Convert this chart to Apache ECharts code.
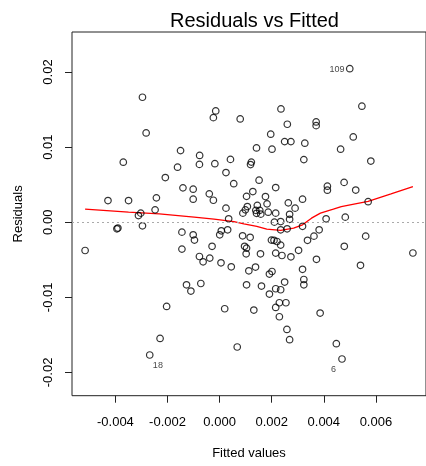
<!DOCTYPE html>
<html>
<head>
<meta charset="utf-8">
<script src="https://cdn.jsdelivr.net/npm/echarts@6/dist/echarts.min.js"></script>
<style>
  html, body { margin: 0; padding: 0; background: #fff; }
  #chart { width: 426px; height: 466px; }
</style>
</head>
<body>
<div id="chart"></div>
<script>
// Fitted values and residuals of the linear model
const fitted = [
  -0.005164, -0.004286, -0.003943, -0.003905, -0.003698, -0.003496, -0.003115, -0.003027, -0.002962, -0.002962,
  -0.002821, -0.002683, -0.002477, -0.002427, -0.002286, -0.002084, -0.002034, -0.001615, -0.001500, -0.001447,
  -0.001447, -0.001408, -0.001271, -0.001103, -0.001015, -0.001015, -0.001015, -0.000966, -0.000767, -0.000775,
  -0.000775, -0.000721, -0.000634, -0.000397, -0.000378, -0.000290, -0.000240, -0.000240, -0.000149, -0.000183,
  0.000004, 0.000065, 0.000053, 0.000195, 0.000244, 0.000244, 0.000309, 0.000347, 0.000416, 0.000447,
  0.000542, 0.000676, 0.000790, 0.001065, 0.000989, 0.000893, 0.000882, 0.000958, 0.001034, 0.001019,
  0.001034, 0.001034, 0.001122, 0.001172, 0.001218, 0.001187, 0.001275, 0.001313, 0.001378, 0.001447,
  0.001389, 0.001542, 0.001580, 0.001416, 0.001416, 0.001515, 0.001569, 0.001607, 0.001760, 0.001821,
  0.001866, 0.001912, 0.001912, 0.001962, 0.002011, 0.002011, 0.001989, 0.002088, 0.002202, 0.002344,
  0.002103, 0.002153, 0.002153, 0.002153, 0.002153, 0.002153, 0.002294, 0.002294, 0.002355, 0.002344,
  0.002344, 0.002344, 0.002393, 0.002496, 0.002496, 0.002546, 0.002584, 0.002599, 0.002592, 0.002637,
  0.002687, 0.002687, 0.002687, 0.002737, 0.002737, 0.002897, 0.003031, 0.003183, 0.003183, 0.003183,
  0.003233, 0.003233, 0.003233, 0.003271, 0.003374, 0.003622, 0.003706, 0.003706, 0.003718, 0.003821,
  0.003859, 0.004088, 0.004137, 0.004137, 0.004481, 0.004645, 0.004698, 0.004779, 0.004786, 0.004824,
  0.004996, 0.005130, 0.005225, 0.005408, 0.005462, 0.005607, 0.005702, 0.005805, 0.007420
];
const residuals = [
  -0.003764, 0.002886, -0.000878, -0.000771, 0.007994, 0.002886, 0.000891, 0.001210, -0.000479, 0.016640,
  0.011891, -0.017678, 0.001649, 0.003246, -0.015470, 0.005946, -0.011213, 0.007329, 0.009537, -0.001317,
  -0.003578, 0.004576, -0.008327, -0.009165, 0.004403, 0.003073, -0.001676, -0.002381, 0.008899, 0.007702,
  -0.004562, -0.008154, -0.005267, 0.003778, -0.004775, -0.003206, 0.002926, 0.013927, 0.014818, 0.007795,
  -0.001676, -0.001144, -0.005400, -0.011519, 0.006611, 0.001876, -0.001011, 0.000452, 0.008367, -0.005932,
  0.005134, -0.016613, 0.013754, 0.002088, 0.001649, 0.001210, -0.001809, -0.003206, -0.003445, -0.004203,
  -0.008327, 0.003445, -0.006465, -0.002009, 0.008007, 0.007675, 0.004084, -0.011692, -0.005972, 0.002248,
  0.001583, 0.001583, 0.001077, 0.001184, 0.009896, 0.005600, -0.004203, -0.008500, 0.003418, 0.002447,
  0.001343, -0.006903, -0.009564, 0.011719, 0.009723, -0.006558, -0.002381, -0.002408, -0.002567, -0.003046,
  0.000013, 0.004616, 0.001210, -0.004110, -0.008859, -0.011346, -0.010721, -0.012583, 0.015084, 0.000093,
  -0.001011, -0.008992, -0.004429, 0.010734, -0.007968, -0.010721, -0.014273, 0.013049, -0.000878, 0.002580,
  0.001051, 0.000386, -0.015643, 0.010734, -0.004602, 0.001876, -0.003738, 0.003073, -0.000545, -0.006265,
  0.008340, -0.007622, -0.008327, 0.010521, -0.002408, -0.001849, 0.013355, 0.012863, -0.004935, -0.001011,
  -0.012091, 0.000452, 0.004802, 0.004270, -0.016175, 0.009723, -0.018210, 0.005307, -0.003206, 0.000678,
  0.020444, 0.011359, 0.004283, -0.005733, 0.015456, -0.001849, 0.002740, 0.008141, -0.004097
];

// Lowess smoother through the residuals
const smoothFitted = [
  -0.005164, -0.003496, -0.002313, -0.000977, -0.000214, 0.000550, 0.000931, 0.001427, 0.001809, 0.002344,
  0.002840, 0.003183, 0.003527, 0.003870, 0.004366, 0.004671, 0.005206, 0.005702, 0.006580, 0.007420
];
const smoothResid = [
  0.001742, 0.001343, 0.001117, 0.000678, 0.000412, 0.000093, -0.000213, -0.000545, -0.000918, -0.001077,
  -0.000785, -0.000346, 0.000545, 0.001210, 0.001742, 0.002088, 0.002447, 0.002780, 0.003778, 0.004749
];

// Observations flagged with their row number
const flaggedIndex = [140, 11, 136];
const flaggedId = ['109', '18', '6'];

// Axis ticks
const xTicks = [-0.004, -0.002, 0, 0.002, 0.004, 0.006];
const xTickLabels = ['-0.004', '-0.002', '0.000', '0.002', '0.004', '0.006'];
const yTicks = [-0.02, -0.01, 0, 0.01, 0.02];
const yTickLabels = ['-0.02', '-0.01', '0.00', '0.01', '0.02'];

const FONT = '"Liberation Sans", Arial, sans-serif';

// Label placement around a flagged point (relative to the symbol box)
const idPlacement = {
  '109': { position: [-1.5, 4.3], align: 'right' },
  '18': { position: [12, 14.4], align: 'center' },
  '6': { position: [-4.7, 14.4], align: 'center' }
};

function tickText(ticks, labels) {
  return function (v) {
    let best = 0;
    for (let i = 1; i < ticks.length; i++) {
      if (Math.abs(ticks[i] - v) < Math.abs(ticks[best] - v)) best = i;
    }
    return labels[best];
  };
}

const points = fitted.map(function (f, i) {
  const item = { value: [f, residuals[i]] };
  const k = flaggedIndex.indexOf(i);
  if (k >= 0) {
    const p = idPlacement[flaggedId[k]];
    item.label = {
      show: true,
      formatter: flaggedId[k],
      position: p.position,
      align: p.align,
      verticalAlign: 'middle',
      fontSize: 9,
      fontFamily: FONT,
      color: '#111'
    };
  }
  return item;
});

const smoothLine = smoothFitted.map(function (f, i) { return [f, smoothResid[i]]; });

const chart = echarts.init(document.getElementById('chart'), null, { renderer: 'canvas' });
chart.setOption({
  animation: false,
  backgroundColor: '#fff',
  title: {
    text: 'Residuals vs Fitted',
    left: 249.5,
    top: 6,
    textAlign: 'center',
    textStyle: { fontFamily: FONT, fontSize: 20, fontWeight: 'normal', color: '#000' }
  },
  grid: {
    left: 72, top: 32, width: 356.2, height: 363.7,
    show: true, borderColor: '#222', borderWidth: 1, backgroundColor: 'transparent'
  },
  xAxis: {
    type: 'value',
    min: -0.005667, max: 0.007923,
    name: 'Fitted values',
    nameLocation: 'middle',
    nameGap: 51,
    nameTextStyle: { fontFamily: FONT, fontSize: 13, color: '#000' },
    splitLine: { show: false },
    axisLine: { show: false, onZero: false },
    axisTick: { show: true, length: 7, lineStyle: { color: '#222' }, customValues: xTicks },
    axisLabel: {
      customValues: xTicks,
      formatter: tickText(xTicks, xTickLabels),
      margin: 20,
      fontFamily: FONT, fontSize: 13, color: '#000'
    }
  },
  yAxis: {
    type: 'value',
    min: -0.023096, max: 0.025330,
    name: 'Residuals',
    nameLocation: 'middle',
    nameRotate: 90,
    nameGap: 47,
    nameTextStyle: { fontFamily: FONT, fontSize: 13, color: '#000' },
    splitLine: { show: false },
    axisLine: { show: false, onZero: false },
    axisTick: { show: true, length: 7, lineStyle: { color: '#222' }, customValues: yTicks },
    axisLabel: {
      customValues: yTicks,
      formatter: tickText(yTicks, yTickLabels),
      rotate: 90,
      margin: 17,
      fontFamily: FONT, fontSize: 13, color: '#000'
    }
  },
  series: [
    {
      type: 'line',
      data: smoothLine,
      showSymbol: false,
      smooth: false,
      silent: true,
      z: 2,
      lineStyle: { color: '#ff0000', width: 1.3 },
      markLine: {
        silent: true,
        symbol: 'none',
        label: { show: false },
        lineStyle: { color: '#aaaaaa', type: [2, 3], width: 1 },
        data: [{ yAxis: 0 }]
      }
    },
    {
      type: 'scatter',
      data: points,
      symbol: 'circle',
      symbolSize: 6.5,
      z: 3,
      itemStyle: { color: 'rgba(255,255,255,0)', borderColor: '#000', borderWidth: 1.2 },
      emphasis: { disabled: true }
    }
  ]
});
</script>
</body>
</html>
